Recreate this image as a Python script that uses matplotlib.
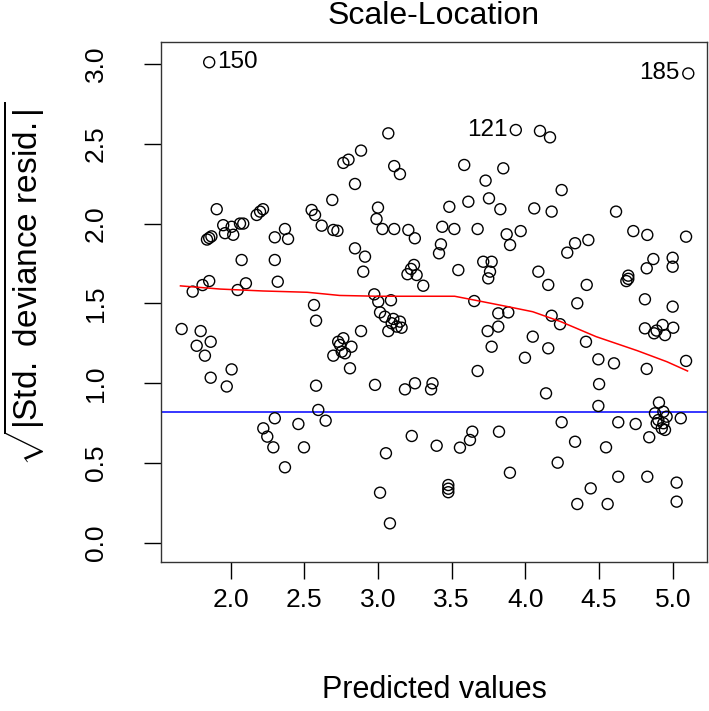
import matplotlib
matplotlib.use("Agg")
import matplotlib.pyplot as plt
import numpy as np

plt.rcParams['font.family'] = ['Liberation Sans', 'DejaVu Sans']
plt.rcParams['mathtext.fontset'] = 'custom'
plt.rcParams['mathtext.rm'] = 'Liberation Sans'
plt.rcParams['mathtext.it'] = 'Liberation Sans'

# ---- data ----
fitted = [
    1.855, 5.105, 3.935, 3.07, 2.885, 2.80, 2.765, 2.844, 3.11, 3.149,
    3.00, 3.585, 3.85, 3.73, 3.753, 3.613, 3.484, 3.83, 4.099, 4.167,
    4.246, 4.06, 4.178, 4.615, 2.69,
    1.906, 2.20, 2.22, 2.177, 2.55, 2.573, 2.618, 2.697, 2.725, 1.95,
    2.007, 2.064, 2.086, 1.962, 2.018, 1.84, 1.855, 1.87, 2.369, 2.30,
    2.39, 2.075, 2.30, 2.32, 2.104, 2.048, 1.855, 1.81, 1.743, 2.566,
    2.58, 1.668, 1.797, 1.77, 1.865, 1.826, 2.007, 1.865, 1.974, 2.58,
    2.697, 2.73,
    2.99, 3.03, 3.11, 3.206, 3.25, 3.436, 3.518, 3.676, 3.873, 3.896,
    3.427, 3.414, 2.844, 2.912, 2.90, 3.244, 3.224, 3.20, 3.262, 3.307,
    3.545, 3.714, 3.771, 3.76, 3.748, 2.975, 3.088, 3.002, 3.014, 3.047,
    3.104, 3.149, 3.093, 3.127, 3.16, 3.07, 2.885, 3.653, 3.816, 3.884,
    3.816, 3.744, 3.771, 3.676, 2.765, 2.742, 2.82, 2.754, 2.776, 2.81,
    2.98, 3.251, 3.37,
    3.968, 4.732, 4.827, 5.09, 4.337, 4.427, 4.284, 4.868, 4.823, 4.999,
    4.999, 4.088, 4.155, 4.416, 4.698, 4.698, 4.685, 4.352, 4.811, 4.999,
    4.178, 4.235, 4.811, 4.873, 4.931, 5.003, 4.947, 4.89, 4.05, 4.155,
    4.411, 3.997, 4.495, 4.601, 4.823, 5.09, 4.50,
    2.595, 2.645, 2.30, 2.46, 2.222, 2.249, 2.29, 2.498, 2.369,
    3.183, 3.36, 3.229, 3.054, 3.398, 3.556, 3.624, 3.64, 3.821, 3.895,
    3.014, 3.477, 3.477, 3.477, 3.081,
    4.14, 4.495, 4.246, 4.63, 4.748, 4.906, 4.879, 4.936, 4.958, 4.902,
    4.936, 4.891, 4.947, 4.925, 5.054, 4.84, 4.337, 4.547, 4.219, 4.63,
    4.827, 5.026, 4.443, 4.352, 4.558, 5.026,
]
sqrt_resid = [
    3.01, 2.94, 2.586, 2.565, 2.457, 2.40, 2.38, 2.248, 2.36, 2.31,
    2.10, 2.367, 2.346, 2.269, 2.158, 2.137, 2.105, 2.09, 2.58, 2.54,
    2.21, 2.095, 2.075, 2.075, 2.148,
    2.09, 2.075, 2.09, 2.054, 2.085, 2.054, 1.987, 1.96, 1.955, 1.99,
    1.98, 2.00, 2.00, 1.94, 1.93, 1.90, 1.91, 1.92, 1.966, 1.914,
    1.904, 1.772, 1.772, 1.636, 1.626, 1.584, 1.64, 1.615, 1.574, 1.49,
    1.392, 1.34, 1.327, 1.235, 1.26, 1.173, 1.087, 1.035, 0.98, 0.985,
    1.173, 1.26,
    2.029, 1.966, 1.966, 1.96, 1.908, 1.98, 1.966, 1.966, 1.933, 1.866,
    1.87, 1.814, 1.845, 1.793, 1.699, 1.741, 1.716, 1.683, 1.678, 1.611,
    1.709, 1.761, 1.761, 1.699, 1.657, 1.557, 1.52, 1.511, 1.444, 1.417,
    1.403, 1.386, 1.376, 1.355, 1.348, 1.327, 1.327, 1.515, 1.438, 1.444,
    1.355, 1.327, 1.229, 1.077, 1.282, 1.24, 1.229, 1.198, 1.188, 1.094,
    0.99, 1.00, 1.00,
    1.953, 1.953, 1.929, 1.918, 1.877, 1.897, 1.818, 1.778, 1.72, 1.786,
    1.73, 1.699, 1.616, 1.616, 1.674, 1.654, 1.64, 1.501, 1.526, 1.48,
    1.423, 1.37, 1.344, 1.313, 1.365, 1.348, 1.302, 1.33, 1.292, 1.219,
    1.26, 1.16, 1.15, 1.125, 1.09, 1.14, 0.995,
    0.833, 0.766, 0.781, 0.745, 0.718, 0.666, 0.599, 0.599, 0.474,
    0.962, 0.962, 0.67, 0.562, 0.609, 0.597, 0.645, 0.697, 0.697, 0.44,
    0.315, 0.363, 0.340, 0.318, 0.123,
    0.937, 0.858, 0.756, 0.756, 0.745, 0.879, 0.812, 0.822, 0.791, 0.77,
    0.75, 0.75, 0.708, 0.718, 0.781, 0.662, 0.634, 0.599, 0.503, 0.415,
    0.415, 0.378, 0.342, 0.244, 0.244, 0.259,
]
smooth_x = [1.66, 1.93, 2.22, 2.52, 2.74, 3.0, 3.3, 3.52, 3.66, 3.88,
            4.05, 4.24, 4.48, 4.76, 4.96, 5.10]
smooth_y = [1.61, 1.59, 1.578, 1.57, 1.55, 1.545, 1.545, 1.545, 1.52, 1.48,
            1.448, 1.386, 1.292, 1.204, 1.135, 1.077]
hline_y = 0.82
id_labels = ["150", "185", "121"]
id_x = [1.855, 5.105, 3.935]
id_y = [3.01, 2.94, 2.586]
id_side = ["right", "left", "left"]
xticks = [2.0, 2.5, 3.0, 3.5, 4.0, 4.5, 5.0]
yticks = [0.0, 0.5, 1.0, 1.5, 2.0, 2.5, 3.0]

# ---- figure ----
W, H = 709, 711
fig = plt.figure(figsize=(W / 100, H / 100), dpi=100)
L, R, T, B = 161, 707, 42, 562
ax = fig.add_axes([L / W, 1 - B / H, (R - L) / W, (B - T) / H])

def px2pt(p):
    return p * 72 / 100

ax.scatter(fitted, sqrt_resid, s=px2pt(11) ** 2, facecolors='none',
           edgecolors='black', linewidths=1.0, zorder=3)
ax.plot(smooth_x, smooth_y, color='red', lw=1.1, zorder=4)
ax.axhline(hline_y, color='blue', lw=1.1, zorder=2)

for lab, x, y, side in zip(id_labels, id_x, id_y, id_side):
    dx = 6 if side == "right" else -6
    ax.annotate(lab, (x, y), xytext=(dx, 0), textcoords='offset points',
                ha='left' if side == "right" else 'right', va='center',
                fontsize=17.5)

ax.set_xlim(1.528, 5.232)
ax.set_ylim(-0.119, 3.137)
ax.set_xticks(xticks)
ax.set_xticklabels([f"{v:.1f}" for v in xticks])
ax.set_yticks(yticks)
ax.set_yticklabels([f"{v:.1f}" for v in yticks], rotation=90, va='center')

ax.tick_params(axis='both', direction='out', length=px2pt(17), width=1.0,
               labelsize=19, color='black')
ax.tick_params(axis='x', pad=px2pt(9))
ax.tick_params(axis='y', pad=px2pt(36))
for s in ax.spines.values():
    s.set_linewidth(1.0)
    s.set_color('#333333')

fig.text(0.5 * (L + R) / W, 1 - 16 / H, "Scale-Location", ha='center',
         va='center', fontsize=23)
fig.text(0.5 * (L + R) / W, 1 - 690 / H, "Predicted values", ha='center',
         va='center', fontsize=22)
fig.text(24 / W, 1 - 284 / H,
         r"$\sqrt{|\mathrm{Std.\ deviance\ resid.}|}$",
         rotation=90, ha='center', va='center', fontsize=24)

fig.savefig("out.png", dpi=100)
